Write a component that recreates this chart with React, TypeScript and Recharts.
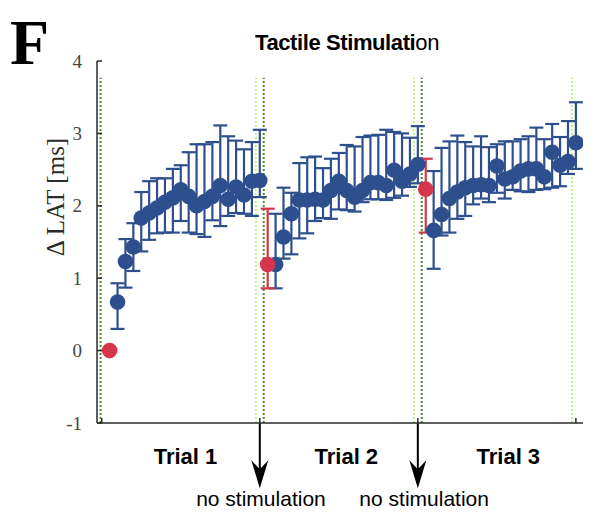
import React from "react";
import {
  ComposedChart,
  Scatter,
  ErrorBar,
  XAxis,
  YAxis,
  ReferenceLine,
  ReferenceDot,
} from "recharts";

const BLUE = "#2d4f8e";
const RED = "#d5364b";
const DARK_GREEN = "#4f8a26";
const LIGHT_GREEN = "#bff583";
const AXIS = "#2b2b2b";

// measurement index, 20 per trial
const index = Array.from({ length: 60 }, (_, i) => i + 1);

// first measurement of every trial (taken before stimulation)
const referenceIdx = [1, 21, 41];

const meanLat = [
  0, 0.67, 1.23, 1.43, 1.83, 1.9, 1.97, 2.05, 2.11, 2.22,
  2.13, 2.0, 2.06, 2.13, 2.28, 2.09, 2.26, 2.15, 2.34, 2.35,
  1.19, 1.19, 1.57, 1.89, 2.08, 2.08, 2.09, 2.08, 2.21, 2.34,
  2.21, 2.12, 2.21, 2.32, 2.32, 2.28, 2.49, 2.34, 2.44, 2.57,
  2.23, 1.66, 1.88, 2.1, 2.19, 2.25, 2.28, 2.29, 2.28, 2.55,
  2.37, 2.4, 2.48, 2.51, 2.51, 2.4, 2.74, 2.56, 2.61, 2.87,
];

const lowerLat = [
  null, 0.3, 0.87, 1.1, 1.37, 1.53, 1.62, 1.63, 1.63, 1.79,
  1.63, 1.61, 1.57, 1.8, 1.72, 1.86, 1.9, 1.89, 1.86, 2.12,
  0.86, 0.86, 1.27, 1.33, 1.55, 1.62, 1.79, 1.83, 1.82, 1.95,
  1.94, 1.92, 2.05, 2.09, 2.09, 2.08, 2.11, 2.14, 2.26, 2.31,
  1.63, 1.13, 1.59, 1.63, 1.82, 1.86, 2.02, 2.1, 2.05, 2.18,
  2.1, 2.22, 2.2, 2.19, 2.22, 2.23, 2.25, 2.27, 2.44, 2.51,
];

const upperLat = [
  null, 0.93, 1.54, 1.76, 2.19, 2.34, 2.38, 2.38, 2.51, 2.56,
  2.74, 2.85, 2.85, 2.88, 3.11, 2.96, 2.9, 2.78, 2.88, 3.05,
  1.96, 1.89, 2.25, 2.18, 2.59, 2.67, 2.68, 2.52, 2.65, 2.73,
  2.84, 2.82, 2.95, 2.97, 2.98, 3.05, 3.02, 3.0, 2.94, 3.1,
  2.65, 2.48, 2.8, 2.89, 2.97, 2.88, 2.82, 2.96, 2.81, 2.85,
  2.89, 2.89, 2.92, 2.96, 3.08, 2.92, 3.13, 2.95, 3.17, 3.43,
];

const yTicks = [-1, 0, 1, 2, 3, 4];
const xTicks = [0, 20, 40, 60];

// trial start / end markers
const trialStart = [-0.15, 20.5, 40.5];
const trialEnd = [19.5, 39.5, 59.5];
const noStimAt = [20, 40];

const trials = ["Trial 1", "Trial 2", "Trial 3"];
const trialLabelX = [10.6, 30.95, 51.45];
const noStimLabelX = [20.15, 40.8];

const rows = index.map((k, i) => ({
  k,
  v: meanLat[i],
  err:
    lowerLat[i] == null
      ? null
      : [meanLat[i] - (lowerLat[i] as number), (upperLat[i] as number) - meanLat[i]],
}));
const blueRows = rows.filter((r) => !referenceIdx.includes(r.k));
const redRows = rows.filter((r) => referenceIdx.includes(r.k));

const dot = (color: string) => (p: any) => (
  <circle cx={p.cx} cy={p.cy} r={7.8} fill={color} />
);

const YTick = (p: any) => (
  <g>
    <line x1={p.x + 15} x2={p.x + 20} y1={p.y} y2={p.y} stroke={AXIS} strokeWidth={1.5} />
    <text
      x={p.x}
      y={p.y}
      dy="0.35em"
      textAnchor="end"
      fontFamily="'Liberation Serif', serif"
      fontSize={19}
      fill="#444"
    >
      {p.payload.value}
    </text>
  </g>
);

const XTick = (p: any) => (
  <line x1={p.x} x2={p.x} y1={p.y} y2={p.y - 5} stroke={AXIS} strokeWidth={1.5} />
);

const Arrow = (p: any) => {
  const x = p.x1;
  const top = Math.min(p.y1, p.y2);
  const tip = Math.max(p.y1, p.y2);
  return (
    <g>
      <line x1={x} x2={x} y1={top} y2={tip - 12} stroke="#000" strokeWidth={2} />
      <polygon
        points={`${x},${tip} ${x - 8.5},${tip - 28} ${x},${tip - 19} ${x + 8.5},${tip - 28}`}
        fill="#000"
      />
    </g>
  );
};

const labelShape = (text: string, size: number, weight: string) => (p: any) => (
  <text
    x={p.cx}
    y={p.cy}
    textAnchor="middle"
    fontFamily="'Liberation Sans', Arial, sans-serif"
    fontSize={size}
    fontWeight={weight}
    fill="#000"
  >
    {text}
  </text>
);

export default function App() {
  return (
    <div style={{ position: "absolute", left: 0, top: 0, width: 597, height: 529, background: "#fff" }}>
      <ComposedChart
        width={597}
        height={529}
        margin={{ top: 61, right: 14, bottom: 105, left: 96 }}
      >
        <XAxis
          dataKey="k"
          type="number"
          domain={[-0.6, 60.9]}
          ticks={xTicks}
          allowDataOverflow
          height={1}
          tickSize={0}
          tickMargin={0}
          tick={<XTick />}
          axisLine={{ stroke: AXIS, strokeWidth: 1.5 }}
          tickLine={false}
        />
        <YAxis
          type="number"
          domain={[-1, 4]}
          ticks={yTicks}
          allowDataOverflow
          width={1}
          tickSize={0}
          tickMargin={15}
          tick={<YTick />}
          axisLine={{ stroke: AXIS, strokeWidth: 1.5 }}
          tickLine={false}
        />
        {trialStart.map((x) => (
          <ReferenceLine
            key={`s${x}`}
            segment={[{ x, y: -1 }, { x, y: 3.77 }]}
            stroke={DARK_GREEN}
            strokeWidth={2}
            strokeDasharray="2 2"
          />
        ))}
        {trialEnd.map((x) => (
          <ReferenceLine
            key={`e${x}`}
            segment={[{ x, y: -1 }, { x, y: 3.77 }]}
            stroke={LIGHT_GREEN}
            strokeWidth={2}
            strokeDasharray="2 2"
          />
        ))}
        <Scatter data={blueRows} dataKey="v" shape={dot(BLUE)} isAnimationActive={false}>
          <ErrorBar dataKey="err" direction="y" width={7} stroke={BLUE} strokeWidth={2.2} />
        </Scatter>
        <Scatter data={redRows} dataKey="v" shape={dot(RED)} isAnimationActive={false}>
          <ErrorBar dataKey="err" direction="y" width={7} stroke={RED} strokeWidth={2.2} />
        </Scatter>
        {noStimAt.map((x) => (
          <ReferenceLine
            key={`a${x}`}
            segment={[{ x, y: -1 }, { x, y: -1.9 }]}
            ifOverflow="visible"
            shape={Arrow}
          />
        ))}
        {trials.map((t, i) => (
          <ReferenceDot
            key={t}
            x={trialLabelX[i]}
            y={-1.56}
            r={0}
            ifOverflow="visible"
            shape={labelShape(t, 22, "bold")}
          />
        ))}
        {noStimLabelX.map((x) => (
          <ReferenceDot
            key={`n${x}`}
            x={x}
            y={-2.14}
            r={0}
            ifOverflow="visible"
            shape={labelShape("no stimulation", 21, "normal")}
          />
        ))}
      </ComposedChart>
      <svg
        width={597}
        height={529}
        style={{ position: "absolute", left: 0, top: 0, pointerEvents: "none" }}
      >
        <text x={10} y={64} fontFamily="'Liberation Serif', serif" fontWeight="bold" fontSize={64}>
          F
        </text>
        <text
          x={347}
          y={50}
          textAnchor="middle"
          fontFamily="'Liberation Sans', Arial, sans-serif"
          fontSize={22}
          letterSpacing={-0.4}
        >
          <tspan fontWeight="bold">Tactile Stimulati</tspan>
          <tspan>on</tspan>
        </text>
        <text
          transform="translate(55 197) rotate(-90)"
          textAnchor="middle"
          dy="0.35em"
          fontFamily="'Liberation Serif', serif"
          fontSize={25}
          fill="#2b2b2b"
        >
          Δ LAT [ms]
        </text>
      </svg>
    </div>
  );
}
